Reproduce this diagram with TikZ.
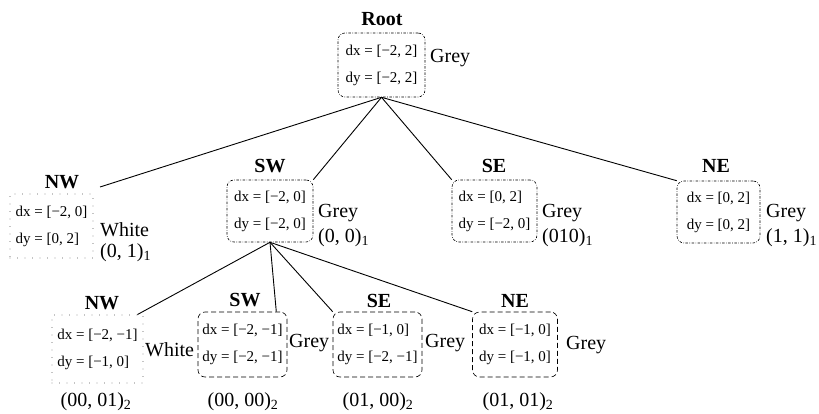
\documentclass[tikz,border=0pt]{standalone}
\usepackage{fontspec}
\setmainfont{Liberation Serif}
\begin{document}
\begin{tikzpicture}[x=1pt,y=-1pt,
  qbox/.style={draw, line width=0.6pt, rounded corners=7pt, inner sep=0pt, align=left,
    font=\fontsize{15}{27}\selectfont},
  dd/.style={dash pattern=on 2.5pt off 1.5pt on 0.6pt off 1.5pt},
  dsh/.style={dash pattern=on 5pt off 3pt},
  dotb/.style={sharp corners, line cap=round, dash pattern=on 0pt off 7.5pt, line width=0.9pt},
  ttl/.style={font=\fontsize{20}{22}\selectfont\bfseries, inner sep=0pt},
  lab/.style={font=\fontsize{20}{22}\selectfont, anchor=west, inner sep=0pt},
  clab/.style={font=\fontsize{20}{22}\selectfont, inner sep=0pt},
  edge/.style={line width=0.9pt}]
\useasboundingbox (0,0) rectangle (819,414);

% root
\node[qbox,dd,minimum width=87pt,minimum height=64pt] (root) at (381.5,65) {dx = [−2, 2]\\dy = [−2, 2]};
\node[ttl] (troot) at (382,19) {Root};
\node[lab] (groot) at (430,58) {Grey};

% level 1
\node[qbox,dotb,minimum width=83pt,minimum height=64pt] (anw) at (51.5,226) {dx = [−2, 0]\\dy = [0, 2]};
\node[ttl] (tanw) at (62,182) {NW};
\node[lab] (ganw) at (100,230) {White};
\node[lab] (canw) at (100,253) {(0, 1)\textsubscript{1}};

\node[qbox,dd,minimum width=86pt,minimum height=62pt] (asw) at (270,211) {dx = [−2, 0]\\dy = [−2, 0]};
\node[ttl] (tasw) at (270,166) {SW};
\node[lab] (gasw) at (318,213) {Grey};
\node[lab] (casw) at (318,238) {(0, 0)\textsubscript{1}};

\node[qbox,dd,minimum width=85pt,minimum height=62pt] (ase) at (494.5,211) {dx = [0, 2]\\dy = [−2, 0]};
\node[ttl] (tase) at (494,166) {SE};
\node[lab] (gase) at (542,213) {Grey};
\node[lab] (case) at (542,238) {(010)\textsubscript{1}};

\node[qbox,dd,minimum width=83pt,minimum height=62pt] (ane) at (718.5,212) {dx = [0, 2]\\dy = [0, 2]};
\node[ttl] (tane) at (716,166) {NE};
\node[lab] (gane) at (766,213) {Grey};
\node[lab] (cane) at (766,238) {(1, 1)\textsubscript{1}};

% level 2
\node[qbox,dotb,minimum width=91pt,minimum height=68pt] (bnw) at (97.5,349) {dx = [−2, −1]\\dy = [−1, 0]};
\node[ttl] (tbnw) at (102,303) {NW};
\node[lab] (gbnw) at (145,350) {White};
\node[clab] (cbnw) at (96,402) {(00, 01)\textsubscript{2}};

\node[qbox,dsh,minimum width=89pt,minimum height=65pt] (bsw) at (242.5,344.5) {dx = [−2, −1]\\dy = [−2, −1]};
\node[ttl] (tbsw) at (245,300) {SW};
\node[lab] (gbsw) at (289,343) {Grey};
\node[clab] (cbsw) at (243,402) {(00, 00)\textsubscript{2}};

\node[qbox,dsh,minimum width=89pt,minimum height=65pt] (bse) at (377.5,344.5) {dx = [−1, 0]\\dy = [−2, −1]};
\node[ttl] (tbse) at (379,301) {SE};
\node[lab] (gbse) at (425,343) {Grey};
\node[clab] (cbse) at (378,402) {(01, 00)\textsubscript{2}};

\node[qbox,dsh,minimum width=85pt,minimum height=65pt] (bne) at (515,344.5) {dx = [−1, 0]\\dy = [−1, 0]};
\node[ttl] (tbne) at (515,301) {NE};
\node[lab] (gbne) at (566,345) {Grey};
\node[clab] (cbne) at (518,402) {(01, 01)\textsubscript{2}};

% connectors
\coordinate (nwend) at (100,187);
\draw[edge] (root.south) -- (nwend);
\draw[edge] (root.south) -- (asw.north east);
\draw[edge] (root.south) -- (ase.north west);
\draw[edge] (root.south) -- (ane.north west);

\draw[edge] (asw.south) -- ([xshift=-6pt]bnw.north east);
\draw[edge] (asw.south) -- ([xshift=-11pt]bsw.north east);
\draw[edge] (asw.south) -- (bse.north west);
\draw[edge] (asw.south) -- (bne.north west);
\end{tikzpicture}
\end{document}
